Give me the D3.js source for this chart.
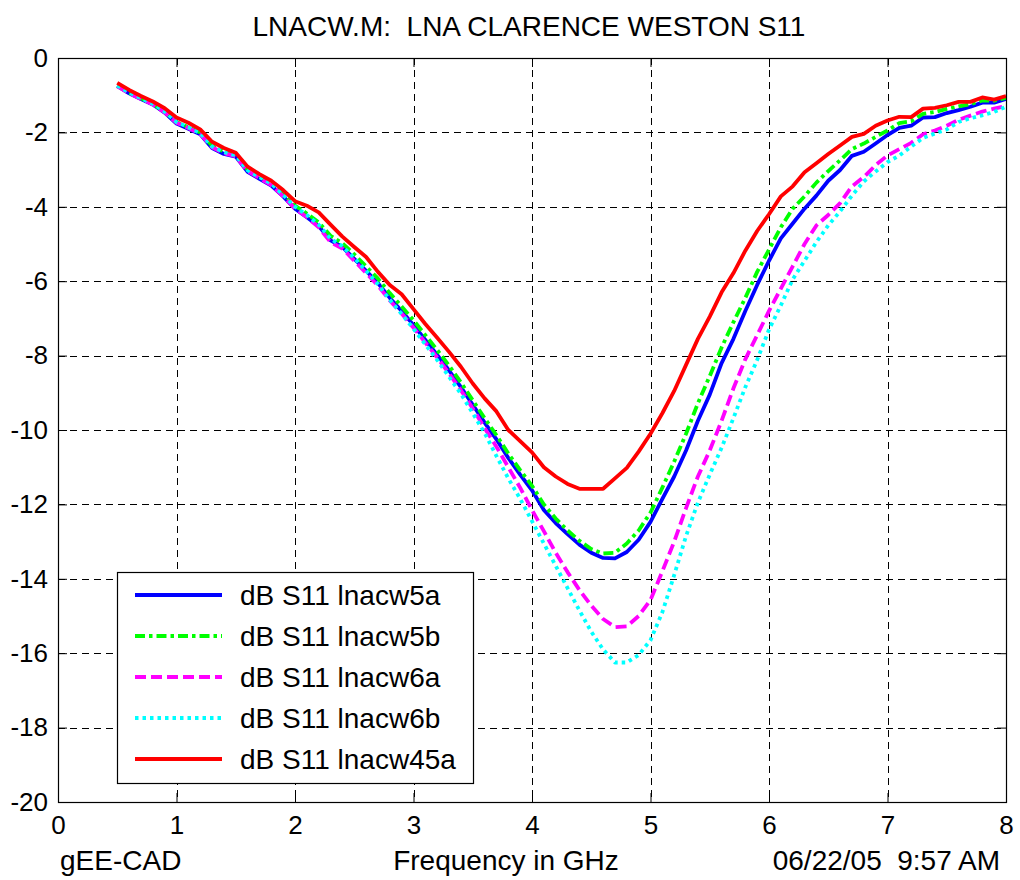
<!DOCTYPE html>
<html>
<head>
<meta charset="utf-8">
<script src="https://cdn.jsdelivr.net/npm/d3@7"></script>
<style>
  html, body { margin: 0; padding: 0; background: #fff; }
  svg { display: block; font-family: "Liberation Sans", Arial, sans-serif; }
  svg text { white-space: pre; }
</style>
</head>
<body>
<svg id="chart" width="1020" height="880"></svg>
<script>
// Frequency sample points (GHz)
const freqs = [0.5,0.6,0.7,0.8,0.9,1.0,1.1,1.2,1.3,1.4,1.5,1.6,1.7,1.8,1.9,2.0,2.1,2.2,2.3,2.4,
  2.5,2.6,2.7,2.8,2.9,3.0,3.1,3.2,3.3,3.4,3.5,3.6,3.7,3.8,3.9,4.0,4.1,4.2,4.3,4.4,
  4.5,4.6,4.7,4.8,4.9,5.0,5.1,5.2,5.3,5.4,5.5,5.6,5.7,5.8,5.9,6.0,6.1,6.2,6.3,6.4,
  6.5,6.6,6.7,6.8,6.9,7.0,7.1,7.2,7.3,7.4,7.5,7.6,7.7,7.8,7.9,8.0];

// S11 in dB for each board
const lnacw5a = [-0.75,-0.95,-1.10,-1.25,-1.47,-1.76,-1.90,-2.05,-2.42,-2.58,
  -2.65,-3.06,-3.25,-3.43,-3.72,-4.05,-4.28,-4.52,-4.90,-5.08,
  -5.40,-5.72,-6.05,-6.45,-6.80,-7.18,-7.58,-7.98,-8.40,-8.85,
  -9.32,-9.80,-10.25,-10.75,-11.20,-11.62,-12.15,-12.50,-12.80,-13.08,
  -13.30,-13.44,-13.45,-13.28,-12.95,-12.47,-11.85,-11.25,-10.55,-9.75,
  -9.05,-8.20,-7.55,-6.80,-6.10,-5.45,-4.85,-4.45,-4.05,-3.70,
  -3.30,-3.01,-2.63,-2.52,-2.30,-2.07,-1.88,-1.82,-1.60,-1.59,
  -1.48,-1.40,-1.31,-1.20,-1.20,-1.10];

const lnacw5b = [-0.75,-0.93,-1.08,-1.23,-1.45,-1.72,-1.86,-2.00,-2.36,-2.52,
  -2.60,-3.00,-3.18,-3.36,-3.65,-3.97,-4.18,-4.42,-4.78,-4.98,
  -5.28,-5.60,-5.93,-6.32,-6.68,-7.05,-7.45,-7.85,-8.27,-8.72,
  -9.20,-9.68,-10.14,-10.63,-11.08,-11.50,-12.00,-12.38,-12.70,-12.98,
  -13.20,-13.32,-13.30,-13.05,-12.70,-12.22,-11.55,-10.85,-10.10,-9.28,
  -8.55,-7.78,-7.10,-6.45,-5.75,-5.15,-4.55,-4.05,-3.72,-3.35,
  -3.04,-2.75,-2.45,-2.30,-2.12,-1.95,-1.75,-1.70,-1.50,-1.45,
  -1.37,-1.30,-1.24,-1.14,-1.15,-1.07];

const lnacw6a = [-0.76,-0.95,-1.10,-1.25,-1.46,-1.74,-1.88,-2.04,-2.40,-2.56,
  -2.64,-3.04,-3.23,-3.42,-3.72,-4.05,-4.28,-4.55,-4.95,-5.12,
  -5.45,-5.78,-6.12,-6.52,-6.87,-7.25,-7.65,-8.05,-8.48,-8.93,
  -9.42,-9.95,-10.45,-11.00,-11.55,-12.15,-12.72,-13.30,-13.82,-14.30,
  -14.72,-15.08,-15.30,-15.28,-15.00,-14.57,-13.80,-13.00,-12.10,-11.25,
  -10.55,-9.75,-8.88,-8.10,-7.45,-6.80,-6.20,-5.60,-5.00,-4.50,
  -4.22,-3.90,-3.45,-3.20,-2.88,-2.62,-2.45,-2.28,-2.05,-1.95,
  -1.82,-1.66,-1.55,-1.44,-1.36,-1.29];

const lnacw6b = [-0.74,-0.93,-1.08,-1.23,-1.44,-1.72,-1.86,-2.02,-2.38,-2.53,
  -2.62,-3.02,-3.20,-3.38,-3.68,-4.00,-4.22,-4.48,-4.86,-5.06,
  -5.38,-5.72,-6.08,-6.50,-6.88,-7.28,-7.70,-8.12,-8.57,-9.03,
  -9.55,-10.08,-10.70,-11.30,-11.85,-12.45,-13.05,-13.65,-14.25,-14.85,
  -15.42,-15.90,-16.25,-16.25,-16.05,-15.65,-14.90,-13.90,-12.85,-11.95,
  -11.20,-10.48,-9.68,-8.85,-8.12,-7.30,-6.65,-5.95,-5.45,-4.95,
  -4.50,-4.12,-3.70,-3.32,-3.05,-2.80,-2.62,-2.38,-2.15,-2.03,
  -1.92,-1.72,-1.62,-1.54,-1.45,-1.31];

const lnacw45a = [-0.67,-0.86,-1.02,-1.17,-1.35,-1.60,-1.74,-1.92,-2.25,-2.42,
  -2.55,-2.92,-3.12,-3.30,-3.55,-3.85,-3.97,-4.15,-4.48,-4.80,
  -5.08,-5.35,-5.75,-6.10,-6.35,-6.75,-7.15,-7.52,-7.90,-8.30,
  -8.75,-9.15,-9.50,-10.00,-10.30,-10.60,-11.00,-11.25,-11.45,-11.58,
  -11.58,-11.58,-11.30,-11.02,-10.58,-10.10,-9.55,-8.95,-8.25,-7.55,
  -6.95,-6.30,-5.78,-5.18,-4.65,-4.20,-3.72,-3.45,-3.07,-2.83,
  -2.58,-2.35,-2.12,-2.04,-1.82,-1.68,-1.58,-1.59,-1.36,-1.34,
  -1.27,-1.18,-1.18,-1.06,-1.12,-1.02];

const seriesNames = ["dB S11 lnacw5a","dB S11 lnacw5b","dB S11 lnacw6a","dB S11 lnacw6b","dB S11 lnacw45a"];
const seriesValues = [lnacw5a, lnacw5b, lnacw6a, lnacw6b, lnacw45a];
const seriesColors = ["#0000ff","#00ff00","#ff00ff","#00ffff","#ff0000"];
const seriesDash = [null, "10,4,3.5,4", "11,5", "3.5,4", null];

const xTicks = [0,1,2,3,4,5,6,7,8];
const yTicks = [0,-2,-4,-6,-8,-10,-12,-14,-16,-18,-20];

const titleText = "LNACW.M:  LNA CLARENCE WESTON S11";
const xLabelText = "Frequency in GHz";
const leftFooter = "gEE-CAD";
const rightFooter = "06/22/05  9:57 AM";

// Layout
const plot = { left: 58, right: 1006, top: 58, bottom: 802 };
const labelSize = 28;
const svg = d3.select("#chart");

const x = d3.scaleLinear().domain([0, 8]).range([plot.left, plot.right]);
const y = d3.scaleLinear().domain([-20, 0]).range([plot.bottom, plot.top]);

// Background of the axes
svg.append("rect")
  .attr("x", plot.left).attr("y", plot.top)
  .attr("width", plot.right - plot.left).attr("height", plot.bottom - plot.top)
  .attr("fill", "#fff");

// Dashed grid
const grid = svg.append("g").attr("stroke", "#000").attr("stroke-width", 1)
  .attr("stroke-dasharray", "7,5").attr("shape-rendering", "crispEdges");
grid.selectAll("line.gx").data(xTicks.slice(1, -1)).join("line")
  .attr("class", "gx")
  .attr("x1", d => Math.round(x(d)) + 0.5).attr("x2", d => Math.round(x(d)) + 0.5)
  .attr("y1", plot.top).attr("y2", plot.bottom);
grid.selectAll("line.gy").data(yTicks.slice(1, -1)).join("line")
  .attr("class", "gy")
  .attr("x1", plot.left).attr("x2", plot.right)
  .attr("y1", d => Math.round(y(d)) + 0.5).attr("y2", d => Math.round(y(d)) + 0.5);

// Curves
const line = d3.line()
  .x((d, i) => x(freqs[i]))
  .y(d => y(d));

const curves = svg.append("g").attr("fill", "none");
seriesValues.forEach((vals, k) => {
  curves.append("path")
    .attr("d", line(vals))
    .attr("stroke", seriesColors[k])
    .attr("stroke-width", 3.8)
    .attr("stroke-linejoin", "round")
    .attr("stroke-dasharray", seriesDash[k]);
});

// Axes with inward ticks
const tickLen = 9;
const fontTick = 26;
const axB = svg.append("g").attr("transform", `translate(0,${plot.bottom})`)
  .call(d3.axisBottom(x).tickValues(xTicks).tickSize(-tickLen).tickPadding(14).tickFormat(d3.format("d")));
const axT = svg.append("g").attr("transform", `translate(0,${plot.top})`)
  .call(d3.axisTop(x).tickValues(xTicks).tickSize(-tickLen).tickFormat(""));
const axL = svg.append("g").attr("transform", `translate(${plot.left},0)`)
  .call(d3.axisLeft(y).tickValues(yTicks).tickSize(-tickLen).tickPadding(10).tickFormat(d => d === 0 ? "0" : "-" + Math.abs(d)));
const axR = svg.append("g").attr("transform", `translate(${plot.right},0)`)
  .call(d3.axisRight(y).tickValues(yTicks).tickSize(-tickLen).tickFormat(""));

[axB, axT, axL, axR].forEach(g => {
  g.select(".domain").remove();
  g.selectAll(".tick line").attr("stroke", "#000").attr("stroke-width", 1);
  g.selectAll("text").attr("fill", "#000")
    .style("font-family", "'Liberation Sans', Arial, sans-serif")
    .style("font-size", fontTick + "px");
});

// Frame
svg.append("rect")
  .attr("x", plot.left + 0.5).attr("y", plot.top + 0.5)
  .attr("width", plot.right - plot.left).attr("height", plot.bottom - plot.top)
  .attr("fill", "none").attr("stroke", "#000").attr("stroke-width", 1.2);

// Title and labels
svg.append("text").attr("x", 529).attr("y", 36).attr("text-anchor", "middle")
  .style("font-size", labelSize + "px").text(titleText);
svg.append("text").attr("x", 506).attr("y", 870).attr("text-anchor", "middle")
  .style("font-size", labelSize + "px").text(xLabelText);
svg.append("text").attr("x", 60).attr("y", 870).attr("text-anchor", "start")
  .style("font-size", labelSize + "px").text(leftFooter);
svg.append("text").attr("x", 1000).attr("y", 870).attr("text-anchor", "end")
  .style("font-size", labelSize + "px").text(rightFooter);

// Legend
const leg = { x: 117, y: 572, w: 356, h: 211, row0: 595, rowStep: 41 };
const legend = svg.append("g");
legend.append("rect")
  .attr("x", leg.x + 0.5).attr("y", leg.y + 0.5).attr("width", leg.w).attr("height", leg.h)
  .attr("fill", "#fff").attr("stroke", "#000").attr("stroke-width", 1.2);
seriesNames.forEach((name, k) => {
  const yy = leg.row0 + k * leg.rowStep;
  legend.append("line")
    .attr("x1", 135).attr("x2", 222).attr("y1", yy).attr("y2", yy)
    .attr("stroke", seriesColors[k]).attr("stroke-width", 3.8)
    .attr("stroke-dasharray", seriesDash[k]);
  legend.append("text")
    .attr("x", 240).attr("y", yy).attr("dy", "0.35em")
    .style("font-size", labelSize + "px").text(name);
});
</script>
</body>
</html>
